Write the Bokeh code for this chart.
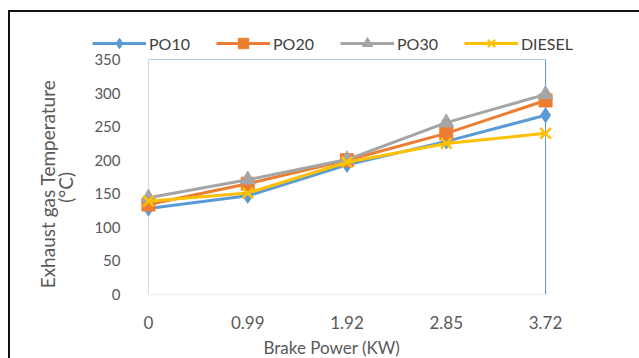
import math
from bokeh.plotting import figure
from bokeh.models import Range1d, FixedTicker, Legend, LegendItem, Label
from bokeh.layouts import column, row
from bokeh.embed import file_html
from bokeh.resources import INLINE

# ---- data ----
power_labels = ["0", "0.99", "1.92", "2.85", "3.72"]
po10 = [128, 147, 193, 228, 267]
po20 = [134, 165, 200, 240, 289]
po30 = [144, 171, 201, 256, 298]
diesel = [139, 151, 197, 225, 240]
y_ticks = [0, 50, 100, 150, 200, 250, 300, 350]

series_names = ["PO10", "PO20", "PO30", "DIESEL"]
series_vals = [po10, po20, po30, diesel]
colors = ["#5B9BD5", "#ED7D31", "#A5A5A5", "#FFC000"]
markers = ["diamond", "square", "triangle", "x"]
msizes = [15, 13, 15, 15]

FONT = "Lato"
TXT = "#595959"
xs = list(range(len(power_labels)))
xmax = len(power_labels) - 1
ymax = y_ticks[-1]
xpad = 0.08  # keeps edge markers from being clipped

# layout sizes (pixels)
W = 629
H_LEG, H_MAIN, H_XT = 40, 283, 23
W_YT = 78


def bare(width, height, xr=None, yr=None):
    f = figure(width=width, height=height, output_backend="svg", toolbar_location=None,
               x_range=xr or Range1d(0, width), y_range=yr or Range1d(0, height),
               x_axis_type=None, y_axis_type=None,
               min_border=0, outline_line_color=None)
    f.grid.visible = False
    return f


# ---- main plot ----
p = figure(width=W - W_YT, height=H_MAIN, output_backend="svg", toolbar_location=None,
           x_range=Range1d(-xpad, xmax + xpad), y_range=Range1d(0, ymax),
           min_border_left=52, min_border_right=86, min_border_top=7, min_border_bottom=41)
p.outline_line_color = None
p.xgrid.visible = False
p.ygrid.visible = False

# frame edges: light grey left/bottom, blue top/right
p.segment(x0=[0, 0], y0=[0, 0], x1=[0, xmax], y1=[ymax, 0], line_color="#D9D9D9", line_width=1)
p.segment(x0=[0, xmax], y0=[ymax, 0], x1=[xmax, xmax], y1=[ymax, ymax], line_color="#5B9BD5", line_width=1)

for name, vals, c, m, s in zip(series_names, series_vals, colors, markers, msizes):
    p.line(xs, vals, line_color=c, line_width=3)
    if m == "x":
        p.scatter(xs, vals, marker=m, size=s, line_color=c, line_width=2.5)
    else:
        p.scatter(xs, vals, marker=m, size=s, fill_color=c, line_color=c)

p.xaxis.ticker = FixedTicker(ticks=xs)
p.xaxis.major_label_overrides = {i: t for i, t in enumerate(power_labels)}
p.xaxis.axis_line_color = None
p.xaxis.major_tick_line_color = None
p.xaxis.minor_tick_line_color = None
p.xaxis.major_label_standoff = 15
p.xaxis.major_label_text_font = FONT
p.xaxis.major_label_text_font_size = "17px"
p.xaxis.major_label_text_color = TXT

p.yaxis.ticker = FixedTicker(ticks=y_ticks)
p.yaxis.axis_line_color = None
p.yaxis.major_tick_line_color = None
p.yaxis.minor_tick_line_color = None
p.yaxis.major_label_standoff = 14
p.yaxis.major_label_text_font = FONT
p.yaxis.major_label_text_font_size = "15px"
p.yaxis.major_label_text_color = TXT

# ---- legend strip (its renderers lie outside its own ranges; only the legend shows) ----
pl = bare(W, H_LEG, xr=Range1d(-10, -9), yr=Range1d(-10, -9))
items = []
for name, vals, c, m in zip(series_names, series_vals, colors, markers):
    l = pl.line(xs, vals, line_color=c, line_width=3)
    if m == "x":
        sc = pl.scatter(xs, vals, marker=m, line_color=c, line_width=2)
    else:
        sc = pl.scatter(xs, vals, marker=m, fill_color=c, line_color=c)
    items.append(LegendItem(label=name, renderers=[l, sc]))
legend = Legend(items=items, orientation="horizontal", location=(82, -4),
                glyph_width=54, glyph_height=26, label_standoff=3, spacing=26,
                padding=0, margin=0, background_fill_alpha=0, border_line_color=None,
                label_text_font=FONT, label_text_font_size="16px", label_text_color="#404040")
pl.add_layout(legend, "center")

# ---- y title ----
py = bare(W_YT, H_MAIN)
py.add_layout(Label(x=37, y=136, text="Exhaust gas  Temperature", angle=math.pi / 2,
                    text_align="center", text_baseline="middle", text_font=FONT,
                    text_font_size="19px", text_color=TXT))
py.add_layout(Label(x=55, y=129, text="(°C)", angle=math.pi / 2,
                    text_align="center", text_baseline="middle", text_font=FONT,
                    text_font_size="19px", text_color=TXT))

# ---- x title ----
px = bare(W, H_XT)
px.add_layout(Label(x=253, y=11, text="Brake Power (KW)", text_align="left",
                    text_baseline="middle", text_font=FONT, text_font_size="17px",
                    text_color=TXT))

root = column(pl, row(py, p), px)
root.styles = {"margin-left": "8px", "margin-top": "10px",
               "border-left": "2px solid #111", "border-top": "2px solid #111"}

open("out.html", "w").write(file_html(root, INLINE))
